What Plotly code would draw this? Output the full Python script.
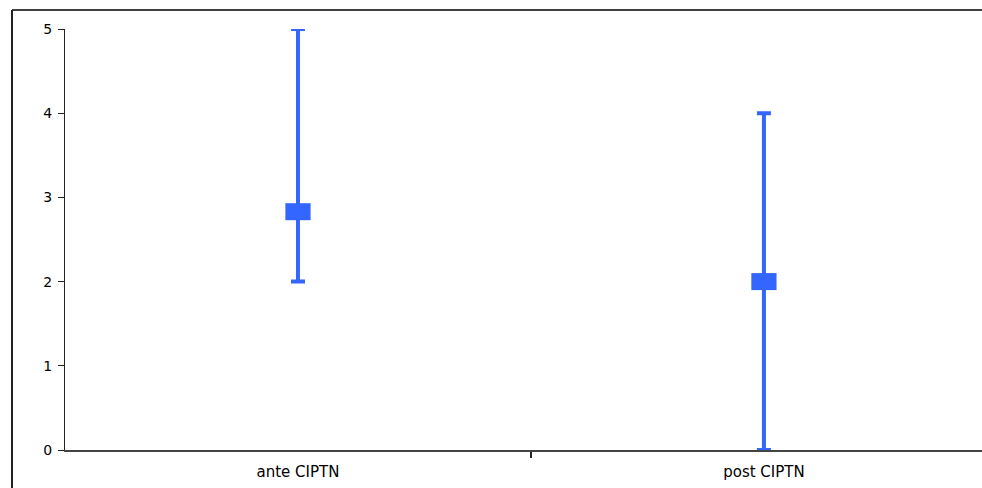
import plotly.graph_objects as go

categories = ["ante CIPTN", "post CIPTN"]
means = [2.83, 2.0]
lows = [2.0, 0.0]
highs = [5.0, 4.0]
y_ticks = [0, 1, 2, 3, 4, 5]

xpos = list(range(len(categories)))
blue = "#3366FF"

fig = go.Figure()
fig.add_trace(go.Scatter(
    x=xpos, y=means, mode="markers",
    marker=dict(symbol="line-ew", size=18, color=blue,
                line=dict(color=blue, width=17)),
    error_y=dict(type="data", symmetric=False,
                 array=[h - m for h, m in zip(highs, means)],
                 arrayminus=[m - l for m, l in zip(means, lows)],
                 color=blue, thickness=4, width=7),
    cliponaxis=False, showlegend=False,
))

fig.update_layout(
    width=982, height=488,
    margin=dict(l=65, r=0, t=29, b=38),
    paper_bgcolor="white", plot_bgcolor="white",
    font=dict(family="DejaVu Sans, Arial, sans-serif", size=14, color="black"),
    xaxis=dict(range=[-0.5, 1.468], tickvals=xpos, ticktext=categories,
               ticks="", showgrid=False, zeroline=False, ticklabelstandoff=7,
               tickfont=dict(size=15),
               showline=True, linecolor="#444", linewidth=1.5,
               minor=dict(tickvals=[0.5, 1.5], ticks="outside",
                          ticklen=6, tickcolor="#222", tickwidth=1.5)),
    yaxis=dict(range=[0, 5], tickvals=y_ticks, ticks="outside", ticklen=6,
               tickcolor="#222", tickwidth=1, showgrid=False, zeroline=False,
               ticklabelstandoff=3,
               showline=True, linecolor="#222", linewidth=1),
    shapes=[
        dict(type="line", xref="paper", yref="paper",
             x0=(12 - 65) / 917, x1=1.0, y0=1 + 19 / 421, y1=1 + 19 / 421,
             line=dict(color="black", width=1.5)),
        dict(type="line", xref="paper", yref="paper",
             x0=(12 - 65) / 917, x1=(12 - 65) / 917, y0=1 + 19 / 421, y1=-0.1,
             line=dict(color="#222", width=2)),
    ],
)

fig.write_html("out.html")
